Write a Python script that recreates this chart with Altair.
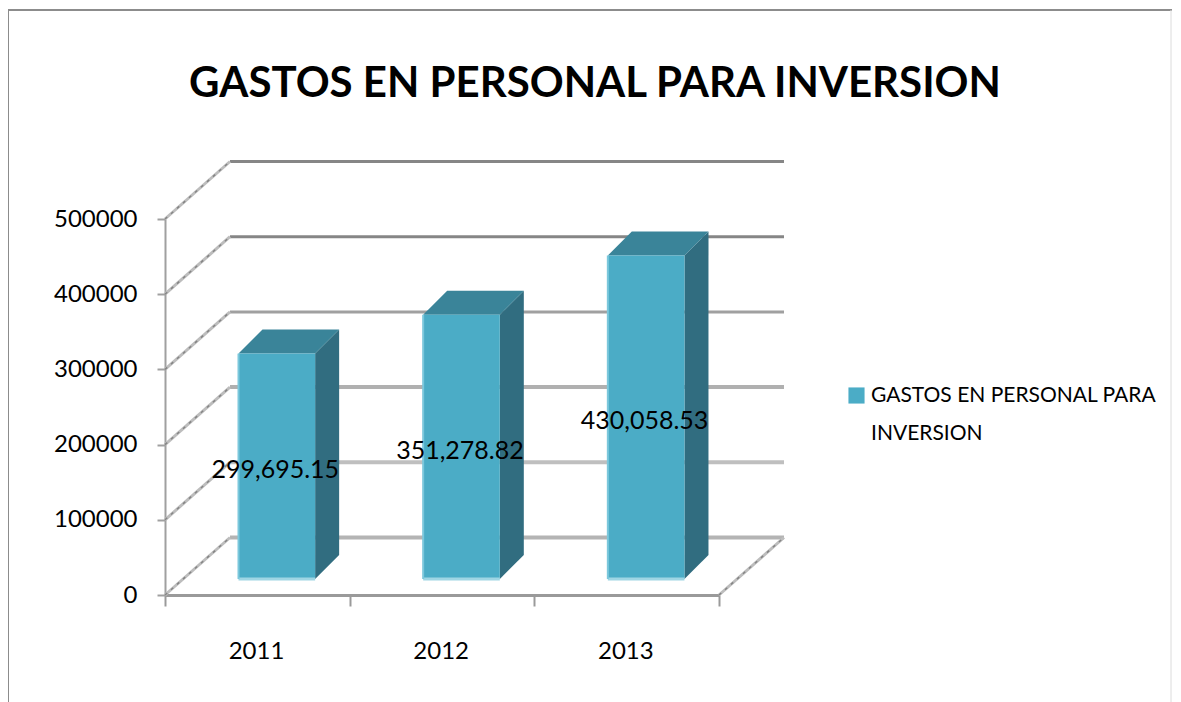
import altair as alt
import pandas as pd

TITLE = "GASTOS EN PERSONAL PARA INVERSION"
SERIES = "GASTOS EN PERSONAL PARA INVERSION"
years = [2011, 2012, 2013]
values = [299695.15, 351278.82, 430058.53]
labels = ["299,695.15", "351,278.82", "430,058.53"]
y_ticks = [0, 100000, 200000, 300000, 400000, 500000]
grid_colors = ["#b4b4b4", "#bfbfbf", "#b0b0b0", "#a0a0a0", "#868686", "#868686"]
grid_widths = [4, 4, 4, 3, 3, 3]

FONT = "Lato"
FRONT, TOPC, SIDE, EDGE = "#4bacc6", "#3a8499", "#316d80", "#9fd6e4"

# depth geometry, expressed in data units
WALL_DX, WALL_DV = 0.352, 76463
BAR_L, BAR_W = 0.398, 0.415
BAR_BASE = 21300
BAR_DX, BAR_DV = 0.13, 32000

xs = alt.Scale(domain=[0, 3], nice=False, zero=False)
ys = alt.Scale(domain=[0, 500000], nice=False, zero=False)

def X(f="x", **k):
    return alt.X(f, type="quantitative", scale=xs, **({"axis": None} | k))
def Y(f="y", **k):
    return alt.Y(f, type="quantitative", scale=ys, **({"axis": None} | k))

wall = pd.DataFrame(
    [dict(g=t, x=a, y=t + b, c=c, w=w)
     for t, c, w in zip(y_ticks, grid_colors, grid_widths)
     for a, b in ((WALL_DX, WALL_DV), (3 + WALL_DX, WALL_DV))]
)
diag = pd.DataFrame(
    [dict(g=t, x=a, y=t + b)
     for t in y_ticks for a, b in ((0, 0), (WALL_DX, WALL_DV))]
    + [dict(g=-1, x=a, y=b) for a, b in ((3, 0), (3 + WALL_DX, WALL_DV))]
)

front = pd.DataFrame([
    dict(s=SERIES, x=i + BAR_L, x2=i + BAR_L + BAR_W, y=BAR_BASE, y2=BAR_BASE + v)
    for i, v in enumerate(values)
])
side = pd.DataFrame([
    dict(g=i, x=i + BAR_L + BAR_W + a, y=BAR_BASE + b, y2=BAR_BASE + v + b)
    for i, v in enumerate(values) for a, b in ((0, 0), (BAR_DX, BAR_DV))
])
top = pd.DataFrame([
    dict(g=i, x=i + BAR_L + a, x2=i + BAR_L + BAR_W + a, y=BAR_BASE + v + b)
    for i, v in enumerate(values) for a, b in ((0, 0), (BAR_DX, BAR_DV))
])
texts = pd.DataFrame([
    dict(x=i + 0.597, y=v / 2 + 16000, t=t)
    for i, (v, t) in enumerate(zip(values, labels))
])

y_axis = alt.Axis(orient="left", values=y_ticks, grid=False, domainColor="#a0a0a0", domainWidth=2,
                  tickColor="#a0a0a0", tickWidth=2, tickSize=8, labelFont=FONT,
                  labelFontSize=24, labelColor="#000000", labelPadding=20, title=None,
                  format="d")
x_axis = alt.Axis(orient="bottom", values=[0, 1, 2, 3], grid=False, domainColor="#9a9a9a", domainWidth=3,
                  tickColor="#9a9a9a", tickWidth=2, tickSize=11, labelFont=FONT,
                  labelFontSize=24, labelColor="#000000", labelPadding=33, labelOffset=91,
                  labelAngle=0, labelFlush=False, labelOverlap=False, title=None,
                  labelExpr="datum.value < 3 ? '' + (2011 + datum.value) : ''")

walls = alt.Chart(wall).mark_line().encode(
    x=X(axis=x_axis), y=Y(axis=y_axis), detail="g:N",
    stroke=alt.Stroke("c:N", scale=None), strokeWidth=alt.StrokeWidth("w:Q", scale=None),
)
diag_l = alt.Chart(diag).mark_line(color="#bdbdbd", strokeWidth=3).encode(x=X(), y=Y(), detail="g:N")
diag_d = alt.Chart(diag).mark_line(color="#858585", strokeWidth=1.5, strokeDash=[3, 5]).encode(x=X(), y=Y(), detail="g:N")

side_m = alt.Chart(side).mark_area(color=SIDE, opacity=1).encode(x=X(), y=Y(), y2="y2:Q", detail="g:N")
top_m = alt.Chart(top).mark_area(color=TOPC, orient="horizontal", opacity=1).encode(
    y=Y(), x=X(), x2="x2:Q", detail="g:N")
front_m = alt.Chart(front).mark_rect(opacity=1).encode(
    x=X(), x2="x2:Q", y=Y(), y2="y2:Q",
    fill=alt.Fill("s:N", scale=alt.Scale(domain=[SERIES], range=[FRONT]),
                  legend=alt.Legend(orient="none", legendX=681, legendY=166, title=None,
                                    symbolType="square", symbolSize=260, symbolStrokeWidth=0,
                                    labelFont=FONT, labelFontSize=21, labelColor="#000000",
                                    labelLimit=400, labelOffset=4,
                                    labelExpr="['GASTOS EN PERSONAL PARA', 'INVERSION']")),
)
edge_b = alt.Chart(front).mark_rule(color=EDGE, strokeWidth=3).encode(x=X(), x2="x2:Q", y=Y("y"))
edge_l = alt.Chart(front).mark_rule(color="#7cc8dc", strokeWidth=2).encode(x=X("x"), y=Y(), y2="y2:Q")
text_m = alt.Chart(texts).mark_text(font=FONT, fontSize=25, color="#000000").encode(
    x=X(), y=Y(), text="t:N")

border = pd.DataFrame({"k": ["top", "left", "right"]})
b_top = alt.Chart(border[:1]).mark_rule(color="#8c8c8c", strokeWidth=2).encode(
    x=alt.value(-157), x2=alt.value(1007), y=alt.value(-209))
b_left = alt.Chart(border[1:2]).mark_rule(color="#8c8c8c", strokeWidth=2).encode(
    x=alt.value(-157), y=alt.value(-209), y2=alt.value(486))
b_right = alt.Chart(border[2:]).mark_rule(color="#dcdcdc", strokeWidth=1).encode(
    x=alt.value(1006), y=alt.value(-209), y2=alt.value(486))

chart = alt.layer(
    walls, diag_l, diag_d, side_m, top_m, front_m, edge_b, edge_l, text_m, b_top, b_left, b_right
).resolve_axis(x="independent", y="independent").properties(
    width=554, height=376,
    padding={"left": 157, "top": 211, "right": 454, "bottom": 108},
    autosize=alt.AutoSizeParams(type="none"),
    title=alt.TitleParams(TITLE, font=FONT, fontWeight="bold", fontSize=42, color="#000000",
                          anchor="middle", dx=153, offset=-130, baseline="alphabetic", frame="group"),
    background="#ffffff",
).configure(view=alt.ViewConfig(stroke=None), style={"guide-label": {"lineHeight": 38}})

chart.save("out.html", embed_options={"renderer": "svg", "actions": False})
